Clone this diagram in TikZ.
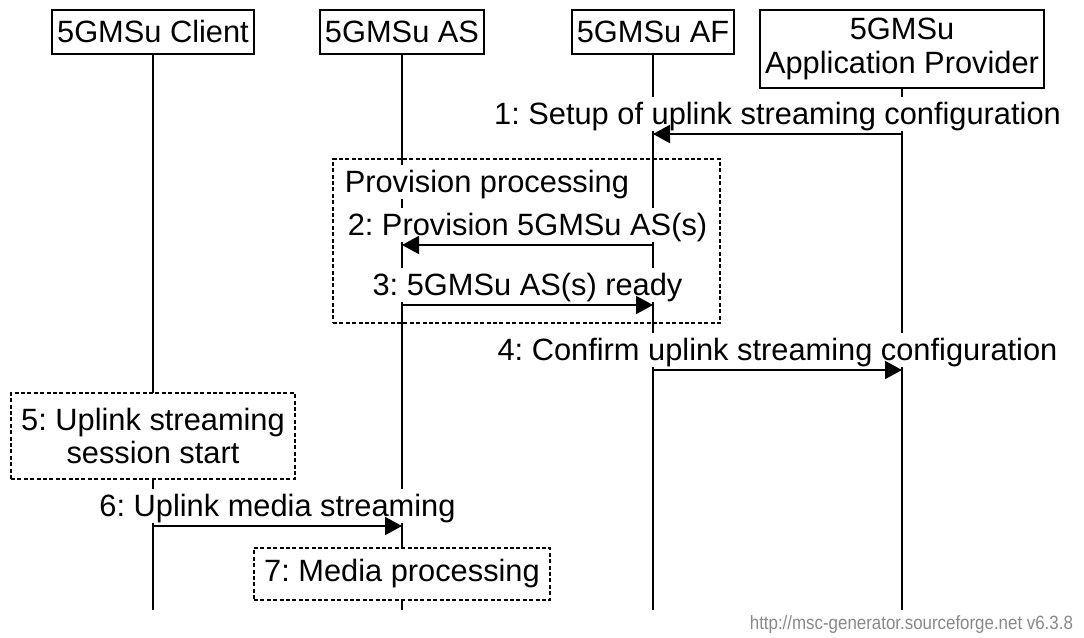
\documentclass[tikz,border=0pt]{standalone}
\usepackage{fontspec}
\setmainfont{Liberation Sans}
\newfontfamily\urlfont[FakeStretch=0.88]{Liberation Sans}
\usetikzlibrary{arrows.meta,positioning}
\definecolor{urlgray}{RGB}{136,136,136}
\frenchspacing

\begin{document}
\begin{tikzpicture}[x=0.5pt,y=-0.5pt,
		every node/.style={font=\fontsize{15.4pt}{16.75pt}\selectfont},
		entity/.style={draw,line width=0.75pt,fill=white,inner xsep=2.5pt,inner ysep=0pt,minimum height=22pt,align=center,anchor=north},
		lifeline/.style={line width=1pt},
		msg/.style={line width=1pt,-{Triangle[length=8.5pt,width=9pt]}},
		msglabel/.style={fill=white,inner sep=0pt,text height=13.5pt,text depth=3.3pt,anchor=base},
		notebox/.style={draw,dash pattern=on 2pt off 1.2pt,line width=0.6pt,fill=white,align=center},
		groupbox/.style={draw,dash pattern=on 2pt off 1.2pt,line width=0.6pt,inner sep=0pt}]
	\useasboundingbox (0,0) rectangle (1084,638);
	% entities and lifelines
	\node[entity] (client) at (153,9) {5GMSu Client};
	\node[entity] (asrv) at (402,9) {5GMSu AS};
	\node[entity] (af) at (653,9) {5GMSu AF};
	\node[entity,minimum height=39pt] (aprov) at (902,9) {5GMSu\\Application Provider};
	\coordinate (bottom) at (0,610);
	\foreach \e in {client,asrv,af,aprov}
		\draw[lifeline] (\e.south) -- (\e |- bottom);
	% provision group
	\node[groupbox,minimum width=193.5pt,minimum height=82pt] (prov) at (526.5,241) {};
	\node[msglabel,anchor=base west] (provlbl) at ([xshift=6pt,yshift=-17pt]prov.north west) {Provision processing};
	% boxes
	\node[notebox,minimum width=142pt,minimum height=43pt] (start) at (153,436) {5: Uplink streaming\\session start};
	\node[notebox,minimum width=148pt,minimum height=26pt] (media) at (402,574) {7: Media processing};
	% messages
	\coordinate (r1) at (0,134);
	\coordinate (r2) at (0,245);
	\coordinate (r3) at (0,305);
	\coordinate (r4) at (0,370);
	\coordinate (r6) at (0,526);
	\foreach \from/\to/\row/\txt in {aprov/af/r1/{1: Setup of uplink streaming configuration},
			af/asrv/r2/{2: Provision 5GMSu AS(s)},
			asrv/af/r3/{3: 5GMSu AS(s) ready},
			af/aprov/r4/{4: Confirm uplink streaming configuration},
			client/asrv/r6/{6: Uplink media streaming}}{
		\path (\from |- \row) -- (\to |- \row) node[msglabel,midway,yshift=5pt] {\txt};
		\draw[msg] (\from |- \row) -- (\to |- \row);
	}
	\node[anchor=base east,font=\urlfont\fontsize{9.6pt}{11pt}\selectfont,text=urlgray] (url) at (1080,629) {http://msc-generator.sourceforge.net v6.3.8};
\end{tikzpicture}
\end{document}
